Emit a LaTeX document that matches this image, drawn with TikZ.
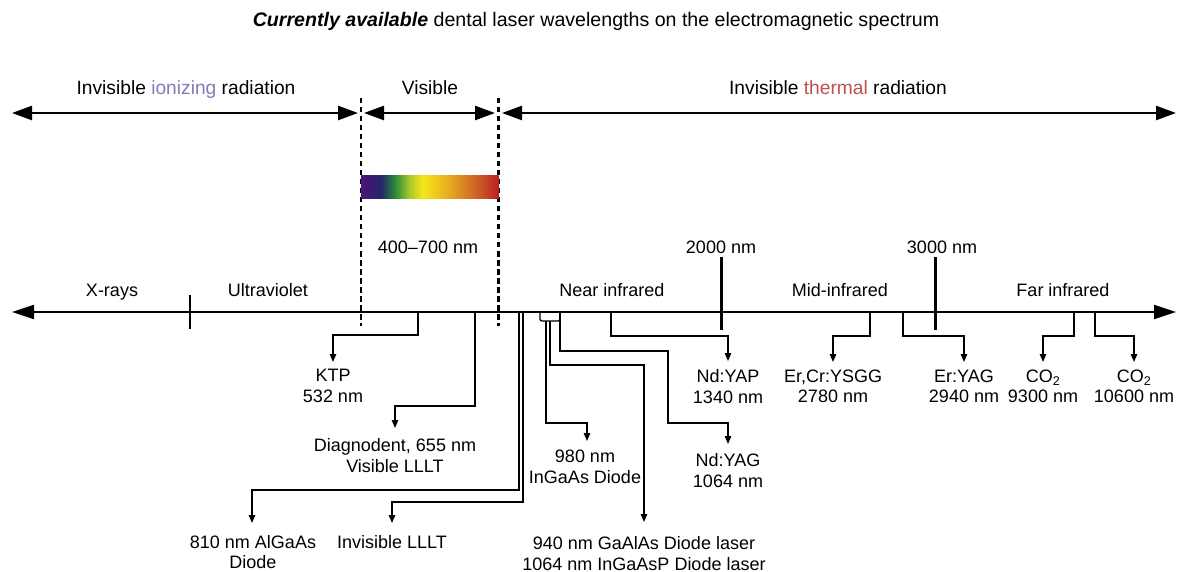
\documentclass[tikz,border=0pt]{standalone}
\usepackage{fontspec}
\setmainfont{Liberation Sans}
\usetikzlibrary{arrows.meta}
\definecolor{ionc}{HTML}{8878B8}
\definecolor{thermc}{HTML}{C0504D}
\definecolor{sA}{HTML}{4A1878}
\definecolor{sB}{HTML}{3A1A70}
\definecolor{sC}{HTML}{1F2A66}
\definecolor{sD}{HTML}{2E8B3A}
\definecolor{sE}{HTML}{A6C82E}
\definecolor{sF}{HTML}{F6E61A}
\definecolor{sG}{HTML}{EDC21C}
\definecolor{sH}{HTML}{DC8E22}
\definecolor{sI}{HTML}{C95526}
\definecolor{sJ}{HTML}{BC1E1E}
\pgfdeclarehorizontalshading{spec}{100bp}{color(0bp)=(sA); color(25bp)=(sA); color(29bp)=(sB); color(32.5bp)=(sC); color(37.5bp)=(sD); color(42.5bp)=(sE); color(47.5bp)=(sF); color(53.5bp)=(sG); color(61bp)=(sH); color(68.5bp)=(sI); color(75bp)=(sJ); color(100bp)=(sJ)}
\begin{document}
\begin{tikzpicture}[x=1pt,y=-1pt,
  font=\fontsize{18}{20.5}\selectfont,
  every node/.style={inner sep=0pt},
  lab/.style={align=center},
  blab/.style={anchor=base},
  toplab/.style={anchor=base, font=\fontsize{19.2}{22}\selectfont},
  conn/.style={line width=1.3pt, -{Triangle[length=8pt,width=6.5pt]}},
  bigarrow/.style={line width=2.5pt, {Triangle[length=20pt,width=14pt]}-{Triangle[length=20pt,width=14pt]}},
  axisline/.style={line width=2.2pt, {Triangle[length=22pt,width=14pt]}-{Triangle[length=22pt,width=14pt]}},
  tickmark/.style={line width=3pt},
  dashv/.style={line width=2.6pt, dash pattern=on 5.5pt off 3.5pt}]
\useasboundingbox (0,0) rectangle (1186,572);

% title
\node[blab, font=\fontsize{19.6}{22}\selectfont] (title) at (596,26.5) {\textbf{\textit{Currently available}} dental laser wavelengths on the electromagnetic spectrum};

% top labels and arrows
\node[toplab] (ion) at (186,94.5) {Invisible \textcolor{ionc}{ionizing} radiation};
\node[toplab] (vis) at (430,94.5) {Visible};
\node[toplab] (therm) at (838,94.5) {Invisible \textcolor{thermc}{thermal} radiation};
\coordinate (t1) at (12,113);
\coordinate (t2) at (358,113);
\coordinate (t3) at (364,113);
\coordinate (t4) at (495,113);
\coordinate (t5) at (502,113);
\coordinate (t6) at (1176,113);
\draw[bigarrow] (t1) -- (t2);
\draw[bigarrow] (t3) -- (t4);
\draw[bigarrow] (t5) -- (t6);

% dashed boundaries
\coordinate (d1a) at (361,98);
\coordinate (d1b) at (361,326);
\coordinate (d2a) at (498.5,98);
\coordinate (d2b) at (498.5,326);
\draw[dashv] (d1a) -- (d1b);
\draw[dashv] (d2a) -- (d2b);

% spectrum
\shade[shading=spec] (361,176) rectangle (498.5,199);
\node[blab] (range) at (428,253.5) {400--700 nm};

% main axis
\coordinate (axL) at (12,312);
\coordinate (axR) at (1176,312);
\draw[axisline] (axL) -- (axR);

% ticks
\coordinate (xa) at (190,295);
\coordinate (xb) at (190,329);
\draw[line width=2.2pt] (xa) -- (xb);
\coordinate (k2a) at (721,257);
\coordinate (k2b) at (721,330);
\draw[tickmark] (k2a) -- (k2b);
\coordinate (k3a) at (935,257);
\coordinate (k3b) at (935,330);
\draw[tickmark] (k3a) -- (k3b);
\node[blab] (n2000) at (721,253.5) {2000 nm};
\node[blab] (n3000) at (942,253.5) {3000 nm};

% region labels
\node[blab] (xray) at (112,296.5) {X-rays};
\node[blab] (uv) at (268,296.5) {Ultraviolet};
\node[blab] (nir) at (612,296.5) {Near infrared};
\node[blab] (mir) at (840,296.5) {Mid-infrared};
\node[blab] (fir) at (1063,296.5) {Far infrared};

% laser labels
\node[lab] (ktp) at (333,386) {KTP\\532 nm};
\node[lab] (diag) at (395,455.5) {Diagnodent, 655 nm\\Visible LLLT};
\node[lab] (alga) at (253,552) {810 nm AlGaAs\\Diode};
\node[blab] (illt) at (392,548.5) {Invisible LLLT};
\node[lab] (ingaas) at (585,467) {980 nm\\InGaAs Diode};
\node[lab] (gaal) at (644,553.5) {940 nm GaAlAs Diode laser\\1064 nm InGaAsP Diode laser};
\node[lab] (ndyag) at (728,470.5) {Nd:YAG\\1064 nm};
\node[lab] (ndyap) at (728,386.5) {Nd:YAP\\1340 nm};
\node[lab] (ercr) at (833,386.5) {Er,Cr:YSGG\\2780 nm};
\node[lab] (eryag) at (964,386.5) {Er:YAG\\2940 nm};
\node[lab] (coa) at (1043,386.5) {CO\textsubscript{2}\\9300 nm};
\node[lab] (cob) at (1134,386.5) {CO\textsubscript{2}\\10600 nm};

% connectors
\coordinate (ktpA) at (418,312);  \coordinate (ktpT) at (333,362);
\draw[conn] (ktpA) -- (418,335) -- (333,335) -- (ktpT);

\coordinate (diagA) at (475,312); \coordinate (diagT) at (395,428);
\draw[conn] (diagA) -- (475,406) -- (395,406) -- (diagT);

\coordinate (algaA) at (519,312); \coordinate (algaT) at (252,523);
\draw[conn] (algaA) -- (519,490) -- (252,490) -- (algaT);

\coordinate (illtA) at (523,312); \coordinate (illtT) at (392,523);
\draw[conn] (illtA) -- (523,502) -- (392,502) -- (illtT);

% bracket
\coordinate (brL) at (540,312);
\coordinate (brR) at (560,312);
\draw[line width=1.3pt, rounded corners=2pt] (brL) -- (540,321) -- (560,321) -- (brR);

\coordinate (ingaasA) at (546,321); \coordinate (ingaasT) at (587,441);
\draw[conn] (ingaasA) -- (546,423) -- (587,423) -- (ingaasT);

\coordinate (gaalA) at (550,321); \coordinate (gaalT) at (644,522);
\draw[conn] (gaalA) -- (550,365) -- (644,365) -- (gaalT);

\coordinate (ndyagA) at (560,312); \coordinate (ndyagT) at (728,444);
\draw[conn] (ndyagA) -- (560,351) -- (668,351) -- (668,423) -- (728,423) -- (ndyagT);

\coordinate (ndyapA) at (611,312); \coordinate (ndyapT) at (728,361);
\draw[conn] (ndyapA) -- (611,336) -- (728,336) -- (ndyapT);

\coordinate (ercrA) at (870,312); \coordinate (ercrT) at (833,362);
\draw[conn] (ercrA) -- (870,336) -- (833,336) -- (ercrT);

\coordinate (eryagA) at (903,312); \coordinate (eryagT) at (964,362);
\draw[conn] (eryagA) -- (903,336) -- (964,336) -- (eryagT);

\coordinate (coaA) at (1074,312); \coordinate (coaT) at (1043,362);
\draw[conn] (coaA) -- (1074,336) -- (1043,336) -- (coaT);

\coordinate (cobA) at (1095,312); \coordinate (cobT) at (1134,362);
\draw[conn] (cobA) -- (1095,336) -- (1134,336) -- (cobT);
\end{tikzpicture}
\end{document}
